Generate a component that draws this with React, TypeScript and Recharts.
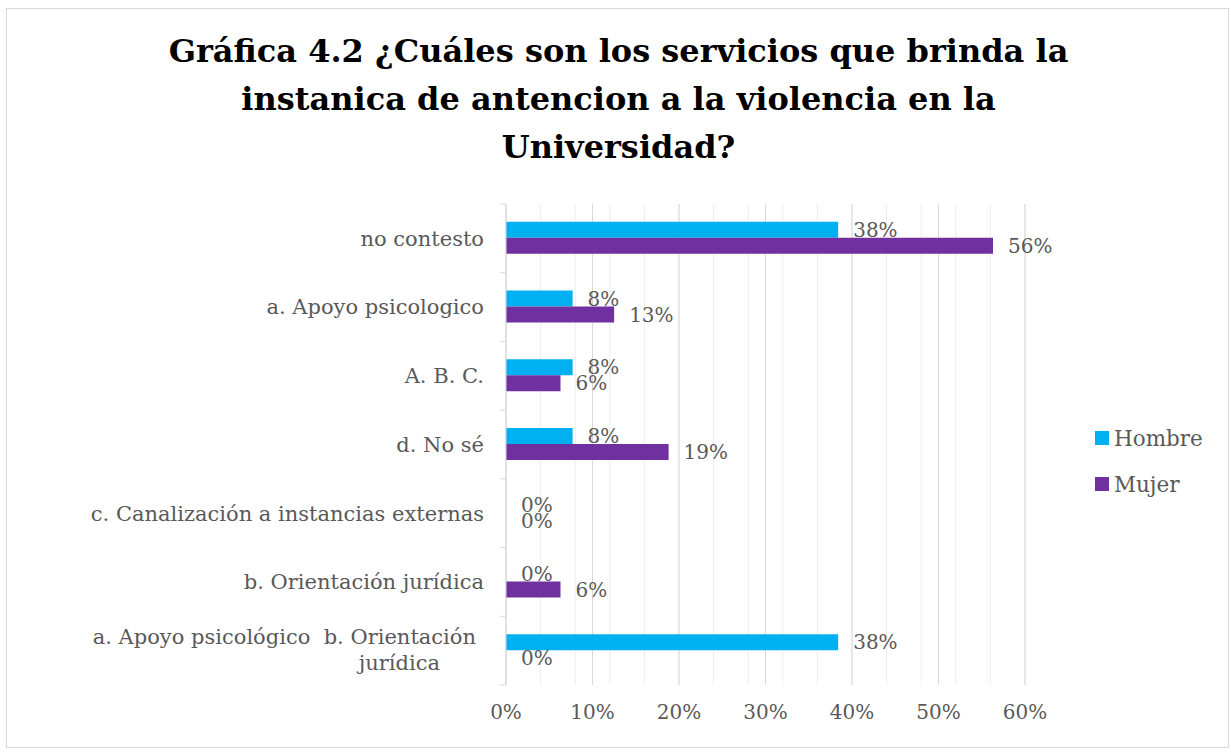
import React from "react";
import {
  BarChart,
  Bar,
  XAxis,
  YAxis,
  CartesianGrid,
  Legend,
  LabelList,
} from "recharts";

const categories = [
  "no contesto",
  "a. Apoyo psicologico",
  "A. B. C.",
  "d. No sé",
  "c. Canalización a instancias externas",
  "b. Orientación jurídica",
  "a. Apoyo psicológico  b. Orientación jurídica",
];
const hombre = [38.4, 7.7, 7.7, 7.7, 0, 0, 38.4];
const mujer = [56.3, 12.5, 6.3, 18.8, 0, 6.3, 0];
const xTicks = [0, 10, 20, 30, 40, 50, 60];
const minorTicks = [0, 2, 4, 6, 8, 10, 12, 14, 16, 18, 20, 22, 24, 26, 28, 30, 32, 34, 36, 38, 40, 42, 44, 46, 48, 50, 52, 54, 56, 58, 60];
const titleLines = [
  "Gráfica 4.2 ¿Cuáles son los servicios que brinda la",
  "instanica de antencion a la violencia en la",
  "Universidad?",
];
const seriesNames = ["Hombre", "Mujer"];
const colors = ["#00B0F0", "#7030A0"];

const data = categories.map((name, i) => ({
  name,
  Hombre: hombre[i],
  Mujer: mujer[i],
}));

const FONT = "'DejaVu Serif', serif";
const TEXT = "#595959";

const W = 1223;
const H = 740;
const M_TOP = 195;
const M_BOTTOM = 12;
const X_AXIS_H = 50;
const PLOT_H = H - 2 - M_TOP - M_BOTTOM - X_AXIS_H;
const BAND = PLOT_H / categories.length;

const YTick = (props: any) => {
  const { x, y, payload, index } = props;
  const label: string = payload.value;
  let lines: string[] = [label];
  if (label.length > 40) {
    const cut = label.lastIndexOf(" ");
    lines = [label.slice(0, cut), label.slice(cut + 1)];
  }
  return (
    <g>
      <line x1={x - 6} x2={x} y1={y - BAND / 2} y2={y - BAND / 2} stroke="#d9d9d9" />
      {index === categories.length - 1 && (
        <line x1={x - 6} x2={x} y1={y + BAND / 2} y2={y + BAND / 2} stroke="#d9d9d9" />
      )}
      {lines.length === 1 ? (
        <text x={x - 22} y={y} dy="0.35em" textAnchor="end" fill={TEXT} fontFamily={FONT} fontSize={21}>
          {label}
        </text>
      ) : (
        <text textAnchor="end" fill={TEXT} fontFamily={FONT} fontSize={21} style={{ whiteSpace: "pre" }}>
          <tspan x={x - 30} y={y - 14} dy="0.35em">{lines[0]}</tspan>
          <tspan x={x - 66} y={y + 12} dy="0.35em">{lines[1]}</tspan>
        </text>
      )}
    </g>
  );
};

const LegendContent = (props: any) => {
  const { payload } = props;
  return (
    <div style={{ fontFamily: FONT, fontSize: 21.5, color: TEXT }}>
      {payload.map((p: any) => (
        <div key={p.value} style={{ display: "flex", alignItems: "center", height: 46 }}>
          <span style={{ display: "inline-block", width: 14, height: 14, background: p.color, marginRight: 5 }} />
          <span>{p.value}</span>
        </div>
      ))}
    </div>
  );
};

const fmt = (v: any) => `${Math.round(Number(v))}%`;

export default function App() {
  return (
    <div
      style={{
        position: "absolute",
        left: 6,
        top: 8,
        width: W,
        height: H,
        border: "1px solid #d9d9d9",
        boxSizing: "border-box",
        background: "#fff",
      }}
    >
      <div
        style={{
          position: "absolute",
          left: 0,
          top: 18,
          width: W,
          textAlign: "center",
          fontFamily: FONT,
          fontWeight: "bold",
          fontSize: 32,
          lineHeight: "48px",
          color: "#000",
        }}
      >
        {titleLines.map((t) => (
          <div key={t}>{t}</div>
        ))}
      </div>
      <BarChart
        width={W - 2}
        height={H - 2}
        data={data}
        layout="vertical"
        margin={{ top: M_TOP, right: 203, bottom: M_BOTTOM, left: 0 }}
        barCategoryGap="26%"
        barGap={0}
        style={{ position: "absolute", left: 0, top: 0 }}
      >
        <CartesianGrid horizontal={false} verticalValues={minorTicks} stroke="#ededed" />
        <CartesianGrid horizontal={false} verticalValues={xTicks} stroke="#d9d9d9" />
        <XAxis
          type="number"
          domain={[0, 60]}
          ticks={xTicks}
          tickFormatter={(v) => `${v}%`}
          axisLine={false}
          tickLine={false}
          height={X_AXIS_H}
          tickMargin={14}
          tick={{ fill: TEXT, fontFamily: FONT, fontSize: 20 }}
        />
        <YAxis
          type="category"
          dataKey="name"
          width={499}
          axisLine={{ stroke: "#d9d9d9" }}
          tickLine={false}
          tickSize={0}
          tickMargin={0}
          tick={<YTick />}
          interval={0}
        />
        <Legend
          layout="vertical"
          align="center"
          verticalAlign="middle"
          content={<LegendContent />}
          wrapperStyle={{ left: 1088, top: 406, width: 130 }}
        />
        {seriesNames.map((s, i) => (
          <Bar key={s} dataKey={s} fill={colors[i]} isAnimationActive={false} minPointSize={0.01}>
            <LabelList
              dataKey={s}
              position="right"
              offset={15}
              formatter={fmt}
              fill={TEXT}
              fontFamily={FONT}
              fontSize={20}
            />
          </Bar>
        ))}
      </BarChart>
    </div>
  );
}
